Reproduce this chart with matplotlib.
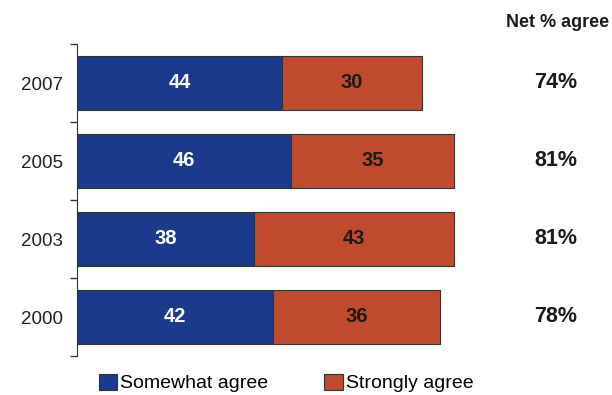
import matplotlib.pyplot as plt

plt.rcParams['font.family'] = ['Liberation Sans', 'DejaVu Sans']

years = ["2007", "2005", "2003", "2000"]
somewhat = [44, 46, 38, 42]
strongly = [30, 35, 43, 36]
net = ["74%", "81%", "81%", "78%"]

blue = "#1b3a8c"
red = "#c04a2e"

fig = plt.figure(figsize=(6.12, 3.95), dpi=100)
ax = fig.add_axes([77 / 612, 39 / 395, 419 / 612, 312 / 395])

ypos = list(range(len(years)))[::-1]
ax.barh(ypos, somewhat, height=0.68, color=blue, edgecolor="#333333", linewidth=0.8,
        label="Somewhat agree")
ax.barh(ypos, strongly, left=somewhat, height=0.68, color=red, edgecolor="#333333",
        linewidth=0.8, label="Strongly agree")

for y, a, b, n in zip(ypos, somewhat, strongly, net):
    ax.text(a / 2, y, str(a), ha="center", va="center", color="white",
            fontsize=14.5, fontweight="bold")
    ax.text(a + b / 2, y, str(b), ha="center", va="center", color="#1a1a1a",
            fontsize=14.5, fontweight="bold")
    ax.text(102.8, y, n, ha="center", va="center", color="#1a1a1a",
            fontsize=15.5, fontweight="bold", clip_on=False)

ax.text(103.3, 3.5 + 0.27, "Net % agree", ha="center", va="center", color="#1a1a1a",
        fontsize=13, fontweight="bold", clip_on=False)

ax.set_xlim(0, 90)
ax.set_ylim(-0.5, 3.5)
ax.set_yticks(ypos)
ax.set_yticklabels(years, fontsize=13.5, color="#222222")
ax.tick_params(axis="y", which="major", length=0, pad=10)
ax.set_yticks([-0.5, 0.5, 1.5, 2.5, 3.5], minor=True)
ax.tick_params(axis="y", which="minor", length=5, width=1, color="#333333")
ax.set_xticks([])
for s in ["top", "right", "bottom"]:
    ax.spines[s].set_visible(False)
ax.spines["left"].set_color("#333333")

fig.legend(loc="center", bbox_to_anchor=(286 / 612, 12 / 395), ncol=2, frameon=False,
           fontsize=14, handlelength=0.95, handleheight=0.9, handletextpad=0.15,
           columnspacing=2.9)

fig.savefig("out.png", dpi=100, facecolor="white")
